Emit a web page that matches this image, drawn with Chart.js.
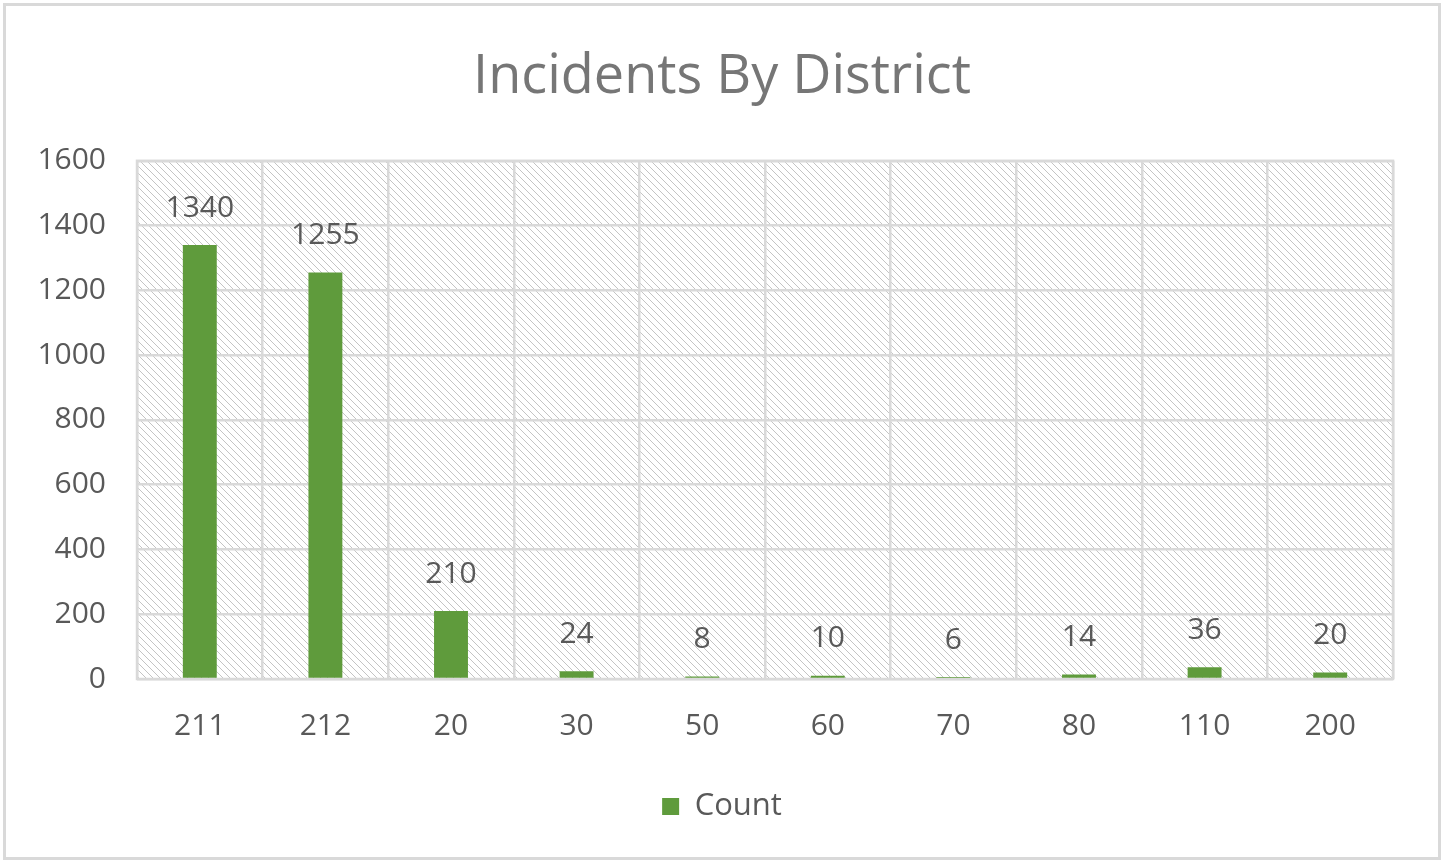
<!DOCTYPE html>
<html>
<head>
<meta charset="utf-8">
<script src="https://cdn.jsdelivr.net/npm/chart.js@4/dist/chart.umd.min.js"></script>
<style>
  html, body { margin: 0; padding: 0; background: #ffffff; }
  #wrap { width: 1444px; height: 863px; position: relative; }
</style>
</head>
<body>
<div id="wrap"><canvas id="c" width="1444" height="863"></canvas></div>
<script>
// ---- Data ----
const districts = ["211", "212", "20", "30", "50", "60", "70", "80", "110", "200"];
const counts = [1340, 1255, 210, 24, 8, 10, 6, 14, 36, 20];
const yTicks = [0, 200, 400, 600, 800, 1000, 1200, 1400, 1600];
const chartTitle = "Incidents By District";
const seriesName = "Count";

const FONT = "'Open Sans', 'DejaVu Sans', sans-serif";
const TEXT = "#595959";
const GRID = "#d9d9d9";
const BAR = "#5f9b3c";

function makeHatch() {
  const p = document.createElement('canvas');
  p.width = 7; p.height = 7;
  const g = p.getContext('2d');
  g.fillStyle = '#ffffff';
  g.fillRect(0, 0, 7, 7);
  g.strokeStyle = '#c4c4c4';
  g.lineWidth = 1;
  g.beginPath();
  g.moveTo(-1, -1); g.lineTo(8, 8);
  g.moveTo(-8, -1); g.lineTo(1, 8);
  g.moveTo(6, -1); g.lineTo(15, 8);
  g.stroke();
  return p;
}

const bgPlugin = {
  id: 'bgPlugin',
  beforeDraw(chart) {
    const ctx = chart.ctx;
    const a = chart.chartArea;
    ctx.save();
    ctx.fillStyle = '#ffffff';
    ctx.fillRect(0, 0, chart.width, chart.height);
    ctx.fillStyle = ctx.createPattern(makeHatch(), 'repeat');
    ctx.fillRect(a.left, a.top, a.right - a.left, a.bottom - a.top);
    ctx.strokeStyle = '#d9d9d9';
    ctx.lineWidth = 3;
    ctx.strokeRect(4.5, 4.5, chart.width - 9, chart.height - 9);
    ctx.restore();
  },
  beforeDatasetsDraw(chart) {
    const ctx = chart.ctx;
    const a = chart.chartArea;
    ctx.save();
    ctx.strokeStyle = GRID;
    ctx.lineWidth = 2.5;
    ctx.strokeRect(a.left, a.top, a.right - a.left, a.bottom - a.top);
    ctx.restore();
  },
  afterDatasetsDraw(chart) {
    const ctx = chart.ctx;
    const meta = chart.getDatasetMeta(0);
    ctx.save();
    ctx.font = "30px " + FONT;
    ctx.fillStyle = TEXT;
    ctx.textAlign = 'center';
    ctx.textBaseline = 'middle';
    meta.data.forEach((bar, i) => {
      ctx.fillText(String(counts[i]), bar.x, bar.y - 37);
    });
    ctx.restore();
  }
};

new Chart(document.getElementById('c'), {
  type: 'bar',
  data: {
    labels: districts,
    datasets: [{
      label: seriesName,
      data: counts,
      backgroundColor: BAR,
      borderWidth: 0,
      barPercentage: 0.27,
      categoryPercentage: 1.0,
      yAxisID: 'y'
    }]
  },
  options: {
    responsive: false,
    animation: false,
    devicePixelRatio: 1,
    layout: { padding: { top: 8, right: 0, bottom: 31, left: 0 } },
    plugins: {
      title: {
        display: true,
        text: chartTitle,
        color: '#767676',
        font: { family: FONT, size: 54, weight: 'normal' },
        padding: { top: 37, bottom: 51 }
      },
      legend: {
        display: true,
        position: 'bottom',
        labels: {
          color: TEXT,
          font: { family: FONT, size: 31 },
          boxWidth: 17,
          boxHeight: 17,
          padding: 10
        }
      },
      tooltip: { enabled: false }
    },
    scales: {
      x: {
        grid: { color: GRID, lineWidth: 2.5, drawTicks: false, offset: true },
        border: { display: false },
        ticks: { color: TEXT, font: { family: FONT, size: 30 }, padding: 29 },
        afterFit(scale) { scale.height = 102; }
      },
      y: {
        position: 'left',
        min: 0, max: 1600,
        afterBuildTicks(scale) { scale.ticks = yTicks.map(v => ({ value: v })); },
        grid: { color: GRID, lineWidth: 2.5, drawTicks: false },
        border: { display: false },
        ticks: {
          color: TEXT, font: { family: FONT, size: 30 }, padding: 31,
          callback: (v) => String(v)
        },
        afterFit(scale) { scale.width = 137; }
      },
      yRight: {
        position: 'right',
        min: 0, max: 1600,
        grid: { display: false, drawOnChartArea: false },
        border: { display: false },
        ticks: { display: false },
        afterFit(scale) { scale.width = 51; }
      }
    }
  },
  plugins: [bgPlugin]
});
</script>
</body>
</html>
